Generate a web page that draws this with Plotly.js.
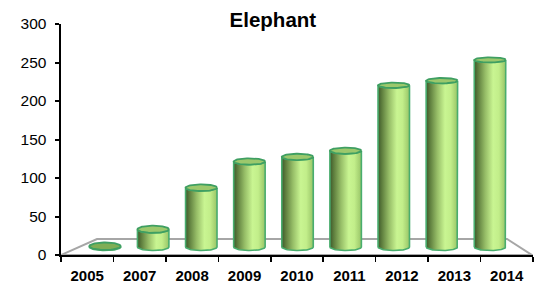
<!DOCTYPE html>
<html><head><meta charset="utf-8">
<script src="https://cdn.plot.ly/plotly-3.0.1.min.js"></script>
<style>html,body{margin:0;padding:0;background:#fff}#chart{width:549px;height:284px}</style>
</head><body><div id="chart"></div>
<script>
// ---- data ----
const categories = ['2005','2007','2008','2009','2010','2011','2012','2013','2014'];
const elephants = [1, 23, 77, 111, 117, 125, 210, 216, 243];
const yTickVals = [0, 50, 100, 150, 200, 250, 300];
const chartTitle = 'Elephant';

// ---- 3D-look style constants ----
const BASE = 10.4;       // mid-depth floor height (value units)
const X_SHIFT = 0.34;    // depth shift of cylinder centres (category units)
const X_SCALE = 0.9175;  // perspective compression across categories
const RX = 0.30;         // cylinder half width (category units)
const NPTS = 40;

function ryTop(top){ return 3.3 + 1.6 * Math.max(0, 1 - top / 260); }
const RY_BOT = 4.6;

const bodyScale = [[0,'#3e582b'],[0.12,'#5d7d3d'],[0.35,'#96bd67'],[0.6,'#c9f592'],[0.78,'#c2ee8a'],[1,'#98c467']];

const traces = [];
categories.forEach((c, i) => {
  const v = elephants[i];
  const cx = X_SHIFT + X_SCALE * i;
  const top = BASE + v;
  const ry = ryTop(top);
  const bx = [], by = [];
  bx.push(cx - RX); by.push(BASE);
  bx.push(cx - RX); by.push(top);
  for (let k = 0; k <= NPTS; k++) {
    const t = Math.PI + Math.PI * k / NPTS;
    bx.push(cx + RX * Math.cos(t)); by.push(top + ry * Math.sin(t));
  }
  bx.push(cx + RX); by.push(BASE);
  for (let k = 0; k <= NPTS; k++) {
    const t = 2 * Math.PI - Math.PI * k / NPTS;
    bx.push(cx + RX * Math.cos(t)); by.push(BASE + RY_BOT * Math.sin(t));
  }
  traces.push({
    type: 'scatter', mode: 'lines', x: bx, y: by, fill: 'toself',
    fillgradient: {type: 'horizontal', colorscale: bodyScale},
    line: {color: '#49ad6e', width: 1.6}, hoverinfo: 'skip', showlegend: false
  });
  const ex = [], ey = [];
  for (let k = 0; k <= 2 * NPTS; k++) {
    const t = 2 * Math.PI * k / (2 * NPTS);
    ex.push(cx + RX * Math.cos(t)); ey.push(top + ry * Math.sin(t));
  }
  traces.push({
    type: 'scatter', mode: 'lines', x: ex, y: ey, fill: 'toself',
    fillcolor: i === 0 ? '#7fae55' : '#9cc86c',
    line: {color: '#3f9f62', width: 1.8},
    name: c, text: c + ': ' + v, hoverinfo: 'text', showlegend: false
  });
});

const layout = {
  width: 549, height: 284,
  margin: {l: 61, r: 16, t: 24, b: 29},
  paper_bgcolor: '#fff', plot_bgcolor: '#fff',
  title: {text: '<b>' + chartTitle + '</b>', font: {family: 'Liberation Sans, Arial, sans-serif', size: 20.5, color: '#000'},
          x: 0.497, xanchor: 'center', xref: 'container', y: 0.93, yanchor: 'middle', yref: 'container'},
  xaxis: {
    range: [-0.5, categories.length - 0.5], fixedrange: true,
    tickmode: 'array', tickvals: categories.map((c, i) => i), ticktext: categories,
    ticks: '', showgrid: false, zeroline: false,
    showline: true, linecolor: '#000', linewidth: 2,
    tickfont: {family: 'Liberation Sans, Arial, sans-serif', size: 15, color: '#000', weight: 'bold'},
    ticklabelstandoff: 6,
    minor: {tickmode: 'linear', tick0: -0.5, dtick: 1, ticks: 'outside', ticklen: 5, tickwidth: 1.5, tickcolor: '#000', showgrid: false}
  },
  yaxis: {
    range: [0, 300], fixedrange: true,
    tickmode: 'array', tickvals: yTickVals, ticktext: yTickVals.map(String),
    ticks: 'outside', ticklen: 4, tickwidth: 2, tickcolor: '#000',
    showgrid: false, zeroline: false,
    showline: true, linecolor: '#000', linewidth: 2.5,
    tickfont: {family: 'Liberation Sans, Arial, sans-serif', size: 15.5, color: '#000'},
    ticklabelstandoff: 5
  },
  shapes: [{
    type: 'path', xref: 'x', yref: 'y', layer: 'below',
    path: 'M -0.5 0 L 0.186 20.8 L 8.005 20.8 L 8.48 0 Z',
    line: {color: '#a6a6a6', width: 2}, fillcolor: '#ffffff'
  }]
};

Plotly.newPlot('chart', traces, layout, {displayModeBar: false, staticPlot: true});
</script>
</body></html>
